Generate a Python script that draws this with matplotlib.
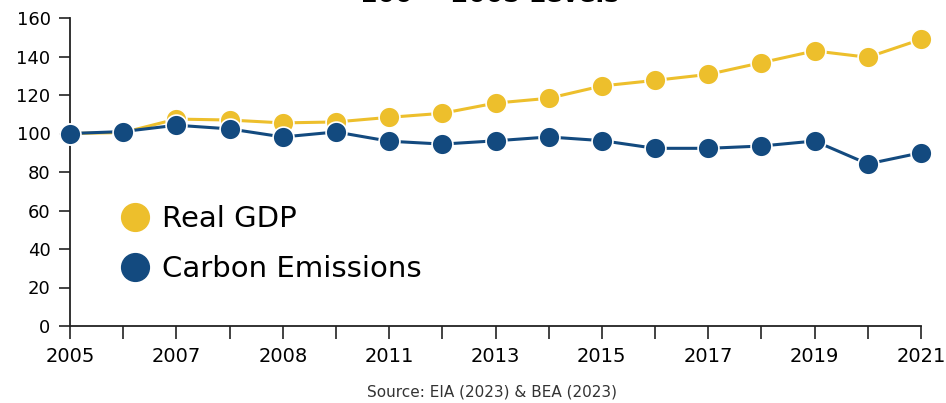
import matplotlib
matplotlib.use("Agg")
import matplotlib.pyplot as plt
from matplotlib.lines import Line2D

years = list(range(2005, 2022))
real_gdp = [100, 100.5, 107.5, 107, 105.5, 106, 108.4, 110.5, 115.8, 118.3,
            124.7, 127.6, 130.7, 136.8, 142.9, 139.6, 148.9]
carbon = [100, 101, 104.3, 102.4, 98.2, 100.8, 96, 94.5, 96.2, 98.2,
          96.3, 92.3, 92.3, 93.5, 96.1, 84.2, 90]
tick_labels = ['2005', '', '2007', '', '2008', '', '2011', '', '2013', '',
               '2015', '', '2017', '', '2019', '', '2021']
y_ticks = [0, 20, 40, 60, 80, 100, 120, 140, 160]

YELLOW = '#EDBF2C'
BLUE = '#134A7F'

plt.rcParams['font.family'] = ['DejaVu Sans']

fig = plt.figure(figsize=(9.46, 4.03), dpi=100)
ax = fig.add_axes([70/946, 1 - 326/403, 851/946, 308/403])

ax.plot(years, real_gdp, color=YELLOW, lw=2.2, marker='o', ms=15,
        mec='white', mew=1.2, clip_on=False, zorder=3)
ax.plot(years, carbon, color=BLUE, lw=2.2, marker='o', ms=15,
        mec='white', mew=1.2, clip_on=False, zorder=4)

ax.set_xlim(2005, 2021)
ax.set_ylim(0, 160)
ax.set_xticks(years)
ax.set_xticklabels(tick_labels)
ax.set_yticks(y_ticks)
ax.tick_params(axis='x', length=9, width=1.2, labelsize=14, pad=6, color='#222222')
ax.tick_params(axis='y', length=8, width=1.2, labelsize=13, pad=6, color='#222222')
for s in ['top', 'right']:
    ax.spines[s].set_visible(False)
for s in ['left', 'bottom']:
    ax.spines[s].set_linewidth(1.3)
    ax.spines[s].set_color('#222222')

handles = [
    Line2D([], [], ls='none', marker='o', ms=20, color=YELLOW, label='Real GDP'),
    Line2D([], [], ls='none', marker='o', ms=20, color=BLUE, label='Carbon Emissions'),
]
ax.legend(handles=handles, loc='upper left', bbox_to_anchor=(92/946, 1 - 179/403),
          bbox_transform=fig.transFigure, frameon=False, fontsize=21,
          handletextpad=0.35, labelspacing=0.75, handlelength=1.15)

# title is cut off at the top of the image
fig.text(489/946, 1 - 2/403, '100 = 2005 Levels', ha='center', va='baseline',
         fontsize=18, fontweight='bold')
fig.text(492/946, 1 - 392/403, 'Source: EIA (2023) & BEA (2023)', ha='center',
         va='center', fontsize=11, color='#333333')

fig.savefig('out.png', dpi=100, facecolor='white')
